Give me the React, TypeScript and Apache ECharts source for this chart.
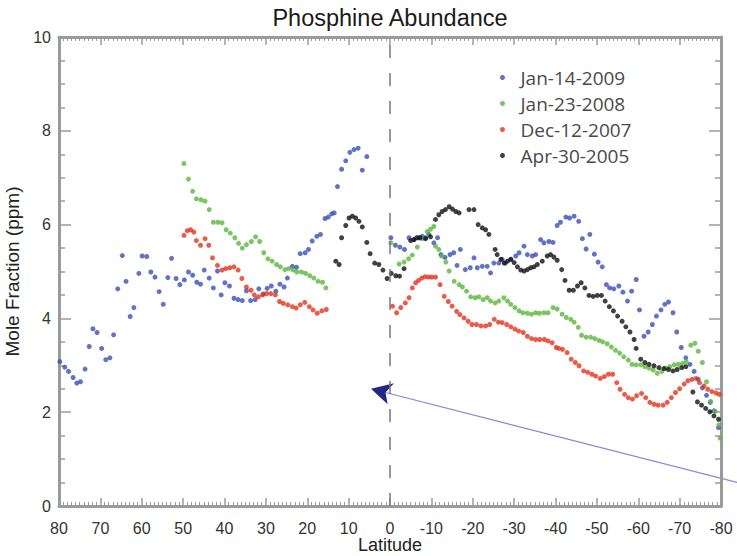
import React, { useEffect, useRef } from "react";
import * as echarts from "echarts";

// ---------- data: [latitude, mole fraction (ppm)] ----------
const jan2009: number[][] = [
  [79.8, 3.08], [78.6, 2.96], [77.7, 2.87], [76.6, 2.74], [75.7, 2.62], [74.8, 2.65], [73.7, 2.92], [72.7, 3.4],
  [71.8, 3.78], [70.8, 3.7], [69.7, 3.36], [68.7, 3.12], [67.7, 3.16], [66.8, 3.65], [65.8, 4.63], [64.7, 5.34],
  [63.8, 4.79], [62.8, 4.04], [61.9, 4.23], [60.7, 4.96], [59.9, 5.33], [58.8, 5.32], [57.8, 4.99], [56.8, 4.88],
  [55.8, 4.57], [54.8, 4.3], [53.7, 4.87], [52.8, 5.28], [51.7, 4.85], [50.8, 4.72], [49.7, 4.82], [48.7, 4.99],
  [47.7, 4.92], [46.7, 4.77], [45.8, 4.73], [44.9, 5.03], [43.7, 4.86], [42.7, 4.65], [41.7, 5.01], [40.8, 4.5],
  [39.9, 4.76], [38.8, 4.69], [37.7, 4.43], [36.7, 4.4], [35.7, 4.38], [34.7, 4.59], [33.7, 4.38], [32.6, 4.4],
  [31.7, 4.63], [30.6, 4.52], [29.7, 4.64], [28.7, 4.69], [27.6, 4.58], [26.6, 4.73], [25.6, 4.67], [24.8, 4.86],
  [23.6, 5.11], [22.6, 5.09], [21.7, 5.38], [20.5, 5.4], [19.7, 5.47], [18.8, 5.65], [17.7, 5.75], [16.8, 5.79],
  [15.7, 6.13], [14.9, 6.16], [14.1, 6.23], [13.5, 6.25], [12.7, 6.81], [11.7, 7.18], [10.7, 7.36], [9.7, 7.54],
  [8.7, 7.6], [7.7, 7.63], [6.7, 7.16], [5.6, 7.45],
  [-0.2, 5.72], [-1.3, 5.56], [-2.4, 5.52], [-3.5, 5.47], [-4.6, 5.72], [-5.8, 5.68], [-7.0, 5.72], [-7.8, 5.75],
  [-8.6, 5.72], [-9.4, 5.79], [-10.6, 5.61], [-11.5, 5.72], [-12.3, 5.36], [-13.3, 5.3], [-14.5, 5.36], [-15.4, 5.4],
  [-16.2, 5.13], [-17.0, 5.47], [-18.2, 5.04], [-19.4, 5.08], [-20.3, 5.29], [-21.1, 5.08], [-22.3, 5.11], [-23.5, 5.11],
  [-24.3, 4.97], [-25.1, 5.18], [-26.3, 5.18], [-27.1, 5.26], [-27.9, 5.18], [-29.2, 5.26], [-30.4, 5.33], [-31.2, 5.4],
  [-32.4, 5.54], [-33.2, 5.36], [-34.4, 5.33], [-35.2, 5.36], [-36.4, 5.68], [-37.2, 5.61], [-38.4, 5.64], [-39.4, 5.62],
  [-40.4, 5.98], [-41.2, 6.05], [-42.5, 6.16], [-43.4, 6.14], [-44.5, 6.18], [-45.6, 6.07], [-46.5, 5.7], [-47.4, 5.48],
  [-48.3, 5.79], [-49.4, 5.37], [-50.3, 5.2], [-51.3, 5.1], [-52.3, 4.72], [-53.1, 4.65], [-54.1, 4.63], [-55.3, 4.69],
  [-56.3, 4.56], [-57.4, 4.37], [-58.4, 4.58], [-59.5, 4.83], [-60.3, 4.18], [-61.4, 3.62], [-62.4, 3.71], [-63.4, 3.87],
  [-64.4, 4.05], [-65.5, 4.18], [-66.4, 4.3], [-67.3, 4.35], [-68.4, 4.12], [-69.3, 3.71], [-70.4, 3.38], [-71.5, 3.16],
  [-72.5, 3.02], [-73.5, 2.87], [-74.5, 2.7], [-75.5, 2.52], [-76.5, 2.36], [-77.4, 2.21], [-78.3, 2.03], [-79.4, 1.67],
];

const jan2008: number[][] = [
  [49.8, 7.3], [48.7, 6.97], [47.7, 6.71], [46.8, 6.55], [45.7, 6.53], [44.7, 6.5], [43.7, 6.32], [42.7, 6.05],
  [41.6, 6.05], [40.6, 6.04], [39.6, 5.89], [38.6, 5.82], [37.5, 5.72], [36.6, 5.6], [35.7, 5.5], [34.7, 5.57],
  [33.5, 5.64], [32.5, 5.74], [31.5, 5.64], [30.5, 5.4], [29.5, 5.27], [28.5, 5.22], [27.4, 5.15], [26.5, 5.1],
  [25.4, 5.04], [24.5, 5.06], [23.4, 5.03], [22.5, 4.99], [21.4, 4.99], [20.4, 4.96], [19.4, 4.91], [18.4, 4.86],
  [17.4, 4.79], [16.3, 4.77], [15.5, 4.65],
  [-0.2, 5.61], [-2.2, 5.16], [-3.4, 5.2], [-4.5, 5.27], [-5.4, 5.35], [-6.6, 5.52], [-7.8, 5.7], [-9.0, 5.85],
  [-9.8, 5.9], [-10.6, 5.96], [-11.0, 5.54], [-11.8, 5.47], [-12.5, 5.33], [-13.5, 5.2], [-14.3, 5.01], [-15.5, 4.79],
  [-16.7, 4.72], [-17.5, 4.67], [-18.5, 4.58], [-19.5, 4.46], [-20.6, 4.44], [-21.5, 4.46], [-22.5, 4.4], [-23.5, 4.44],
  [-24.3, 4.37], [-25.4, 4.33], [-26.3, 4.37], [-27.5, 4.44], [-28.4, 4.37], [-29.2, 4.3], [-30.2, 4.23], [-31.2, 4.16],
  [-32.1, 4.12], [-33.2, 4.11], [-34.2, 4.09], [-35.2, 4.12], [-36.1, 4.11], [-37.2, 4.12], [-38.2, 4.12], [-39.4, 4.23],
  [-40.4, 4.2], [-41.6, 4.09], [-42.6, 4.02], [-43.7, 3.98], [-44.5, 3.92], [-45.5, 3.81], [-46.3, 3.64], [-47.4, 3.6],
  [-48.5, 3.6], [-49.5, 3.57], [-50.5, 3.53], [-51.4, 3.5], [-52.5, 3.46], [-53.5, 3.39], [-54.5, 3.32], [-55.5, 3.26],
  [-56.5, 3.18], [-57.6, 3.11], [-58.5, 3.02], [-59.5, 3.01], [-60.6, 3.01], [-61.6, 2.97], [-62.6, 2.94], [-63.6, 2.9],
  [-64.6, 2.83], [-65.7, 2.87], [-66.6, 2.94], [-67.6, 2.97], [-68.7, 3.01], [-69.7, 3.02], [-70.7, 3.04], [-71.6, 3.08],
  [-72.7, 3.43], [-73.7, 3.47], [-74.5, 3.3], [-75.5, 3.06], [-76.5, 2.65], [-77.5, 2.23], [-78.6, 2.02], [-79.5, 1.73],
  [-79.8, 1.45],
];

const dec2007: number[][] = [
  [49.8, 5.77], [49.0, 5.87], [48.2, 5.89], [47.4, 5.84], [46.8, 5.66], [45.8, 5.56], [44.7, 5.7], [43.8, 5.56],
  [42.9, 5.29], [41.7, 5.13], [40.6, 5.03], [39.7, 5.06], [38.7, 5.08], [37.7, 5.1], [36.7, 5.03], [35.8, 4.85],
  [34.7, 4.67], [33.6, 4.6], [32.8, 4.5], [31.8, 4.46], [30.8, 4.5], [29.8, 4.53], [28.8, 4.53], [27.7, 4.5],
  [26.7, 4.36], [25.8, 4.32], [24.7, 4.29], [23.6, 4.25], [22.7, 4.22], [21.7, 4.29], [20.6, 4.34], [19.5, 4.25],
  [18.6, 4.18], [17.6, 4.11], [16.5, 4.16], [15.4, 4.19],
  [-0.6, 4.26], [-1.6, 4.12], [-2.6, 4.23], [-3.7, 4.33], [-4.6, 4.44], [-5.4, 4.65], [-6.2, 4.76], [-6.9, 4.81],
  [-7.7, 4.86], [-8.5, 4.89], [-9.3, 4.88], [-10.1, 4.88], [-11.0, 4.88], [-12.1, 4.72], [-13.1, 4.47], [-14.1, 4.36],
  [-15.0, 4.26], [-16.1, 4.15], [-16.9, 4.08], [-17.9, 4.01], [-18.9, 3.94], [-19.8, 3.87], [-20.9, 3.87], [-22.0, 3.84],
  [-23.1, 3.84], [-24.1, 3.87], [-25.2, 3.98], [-26.2, 3.92], [-27.1, 3.91], [-28.2, 3.87], [-29.2, 3.82], [-30.2, 3.77],
  [-31.1, 3.73], [-32.2, 3.7], [-33.2, 3.62], [-34.2, 3.57], [-35.2, 3.55], [-36.2, 3.55], [-37.3, 3.55], [-38.2, 3.52],
  [-39.2, 3.48], [-40.2, 3.38], [-40.8, 3.36], [-41.7, 3.34], [-42.8, 3.27], [-43.8, 3.13], [-44.8, 3.06], [-45.7, 2.99],
  [-46.8, 2.88], [-47.8, 2.85], [-48.8, 2.81], [-49.7, 2.77], [-50.8, 2.72], [-51.8, 2.76], [-52.8, 2.81], [-53.8, 2.81],
  [-54.8, 2.63], [-55.6, 2.49], [-56.7, 2.38], [-57.6, 2.31], [-58.6, 2.28], [-59.6, 2.35], [-60.8, 2.4], [-61.8, 2.31],
  [-62.8, 2.21], [-63.8, 2.17], [-64.8, 2.15], [-66.0, 2.15], [-67.0, 2.21], [-68.0, 2.31], [-69.0, 2.42], [-70.0, 2.5],
  [-71.1, 2.6], [-72.0, 2.67], [-73.0, 2.7], [-74.0, 2.72], [-74.8, 2.63], [-75.9, 2.56], [-76.8, 2.49], [-77.8, 2.44],
  [-78.8, 2.41], [-79.6, 2.38],
];

const apr2005: number[][] = [
  [13.1, 5.22], [12.3, 5.15], [11.7, 5.72], [10.7, 5.98], [9.9, 6.14], [9.1, 6.18], [8.3, 6.14], [7.5, 6.07],
  [6.7, 5.95], [5.6, 5.62], [4.8, 5.38], [3.7, 5.18], [2.7, 5.15], [1.7, 5.03], [0.7, 4.85],
  [-0.3, 4.96], [-1.4, 4.91], [-2.3, 4.9], [-3.4, 5.06], [-5.0, 5.66], [-5.8, 5.68], [-6.5, 5.72], [-7.3, 5.72],
  [-8.6, 5.7], [-9.8, 5.74], [-11.0, 6.11], [-11.8, 6.21], [-12.6, 6.28], [-13.4, 6.32], [-14.3, 6.38], [-15.1, 6.33],
  [-15.9, 6.28], [-16.7, 6.25], [-19.1, 6.32], [-20.3, 6.32], [-21.3, 6.0], [-22.3, 5.93], [-23.1, 5.89], [-23.9, 5.79],
  [-25.4, 5.47], [-25.9, 5.36], [-26.8, 5.26], [-27.6, 5.18], [-28.4, 5.22], [-29.2, 5.26], [-30.0, 5.19], [-30.8, 5.1],
  [-31.6, 5.03], [-32.4, 5.01], [-33.2, 5.04], [-34.0, 5.08], [-34.8, 5.1], [-35.6, 5.15], [-36.8, 5.22], [-38.0, 5.33],
  [-38.8, 5.36], [-39.6, 5.31], [-40.4, 5.24], [-41.5, 5.04], [-42.3, 4.81], [-43.3, 4.6], [-44.3, 4.6], [-45.3, 4.69],
  [-46.2, 4.76], [-47.1, 4.65], [-48.1, 4.49], [-49.1, 4.47], [-50.1, 4.49], [-51.1, 4.49], [-52.0, 4.37], [-53.0, 4.25],
  [-54.0, 4.16], [-55.0, 4.05], [-56.1, 3.94], [-57.0, 3.82], [-58.0, 3.71], [-59.0, 3.55], [-59.5, 3.36], [-60.6, 3.13],
  [-61.6, 3.06], [-62.6, 3.02], [-63.8, 2.99], [-65.0, 2.95], [-66.2, 2.93], [-67.3, 2.91], [-68.4, 2.88], [-69.4, 2.91],
  [-70.5, 2.95], [-71.5, 2.97], [-73.2, 2.43], [-74.3, 2.22], [-75.3, 2.15], [-76.3, 2.08], [-77.3, 2.01], [-78.3, 1.92],
  [-79.4, 1.85],
];

const seriesNames = ["Jan-14-2009", "Jan-23-2008", "Dec-12-2007", "Apr-30-2005"];
const seriesData = [jan2009, jan2008, dec2007, apr2005];
const seriesColors = ["#3a50b6", "#58b83c", "#e6321c", "#111111"];

const latRange = [-80, 80];
const ppmRange = [0, 10];

// annotation arrow (data coordinates): tip near the equator, tail off the right edge
const arrowTip = [4.6, 2.5];
const arrowTail = [-84, 0.5];

export default function App() {
  const ref = useRef<HTMLDivElement>(null);

  useEffect(() => {
    if (!ref.current) return;
    const chart = echarts.init(ref.current, null, { renderer: "svg" });
    const gray = "#9b9b9b";
    const font = "'Liberation Sans', Arial, Helvetica, sans-serif";

    const xAxisBase = (position: string, showLabel: boolean) => ({
      type: "value",
      min: latRange[0],
      max: latRange[1],
      interval: 10,
      inverse: true,
      position,
      axisLine: { show: true, onZero: false, lineStyle: { color: gray, width: 3 } },
      axisTick: { show: true, inside: true, length: 8, lineStyle: { color: gray, width: 1.5 } },
      minorTick: { show: true, splitNumber: 10, length: 4, lineStyle: { color: gray, width: 1 } },
      splitLine: { show: false },
      minorSplitLine: { show: false },
      axisLabel: { show: showLabel, fontSize: 16, color: "#333", margin: 14, fontFamily: font },
    });

    const yAxisBase = (position: string, showLabel: boolean) => ({
      type: "value",
      min: ppmRange[0],
      max: ppmRange[1],
      interval: 2,
      position,
      axisLine: { show: true, onZero: false, lineStyle: { color: gray, width: 3 } },
      axisTick: { show: true, inside: true, length: 12, lineStyle: { color: gray, width: 1.5 } },
      minorTick: { show: true, splitNumber: 4, length: 6, lineStyle: { color: gray, width: 1.5 } },
      splitLine: { show: false },
      minorSplitLine: { show: false },
      axisLabel: { show: showLabel, fontSize: 16, color: "#333", margin: 8, fontFamily: font },
    });

    const option: any = {
      animation: false,
      backgroundColor: "#ffffff",
      grid: { left: 59, right: 16, top: 37, bottom: 50, containLabel: false, outerBoundsMode: "none" },
      legend: {
        orient: "vertical",
        left: 495,
        top: 63,
        itemWidth: 26,
        itemHeight: 5,
        itemGap: 7,
        icon: "circle",
        data: seriesNames,
        textStyle: { fontSize: 19, color: "#4a4a4a", fontFamily: "'Open Sans', sans-serif" },
      },
      xAxis: [
        {
          ...xAxisBase("bottom", true),
          name: "Latitude",
          nameLocation: "middle",
          nameGap: 29,
          nameMoveOverlap: false,
          nameTextStyle: { fontSize: 18, color: "#222", fontFamily: font, lineHeight: 20 },
        },
        xAxisBase("top", false),
      ],
      yAxis: [
        {
          ...yAxisBase("left", true),
          name: "Mole Fraction (ppm)",
          nameLocation: "middle",
          nameGap: 37,
          nameTextStyle: { fontSize: 19, color: "#222", fontFamily: font },
        },
        yAxisBase("right", false),
      ],
      series: seriesNames.map((name, i) => ({
        type: "scatter",
        name,
        data: seriesData[i],
        xAxisIndex: 0,
        yAxisIndex: 0,
        symbol: "circle",
        symbolSize: 5,
        itemStyle: { color: seriesColors[i] },
        markLine:
          i === 0
            ? {
                silent: true,
                symbol: ["none", "none"],
                label: { show: false },
                lineStyle: { color: "#7a7a7a", width: 1.5, type: [13, 15] },
                data: [{ xAxis: 0 }],
              }
            : undefined,
      })),
    };

    chart.setOption(option);

    const tip = chart.convertToPixel({ xAxisIndex: 0, yAxisIndex: 0 }, arrowTip) as number[];
    const tail = chart.convertToPixel({ xAxisIndex: 0, yAxisIndex: 0 }, arrowTail) as number[];
    const dx = tail[0] - tip[0];
    const dy = tail[1] - tip[1];
    const len = Math.sqrt(dx * dx + dy * dy);
    const ux = dx / len;
    const uy = dy / len;
    const nx = -uy;
    const ny = ux;
    const pt = (a: number, p: number) => [tip[0] + ux * a + nx * p, tip[1] + uy * a + ny * p];
    const notch = pt(15, 0);

    chart.setOption({
      graphic: [
        {
          id: "title",
          type: "text",
          x: 390,
          y: 18,
          style: {
            text: "Phosphine Abundance",
            fontSize: 23.5,
            fontFamily: font,
            fill: "#1a1a1a",
            align: "center",
            verticalAlign: "middle",
          },
        },
        {
          id: "arrowLine",
          type: "line",
          shape: { x1: notch[0], y1: notch[1], x2: tail[0], y2: tail[1] },
          style: { stroke: "#8585e0", lineWidth: 1.2 },
        },
        {
          id: "arrowHead",
          type: "polygon",
          shape: { points: [pt(0, 0), pt(21, -11), pt(15, 0), pt(20, 11)] },
          style: { fill: "#25258c" },
        },
      ],
    });

    return () => chart.dispose();
  }, []);

  return <div ref={ref} style={{ position: "fixed", left: 0, top: 0, width: 737, height: 556 }} />;
}
